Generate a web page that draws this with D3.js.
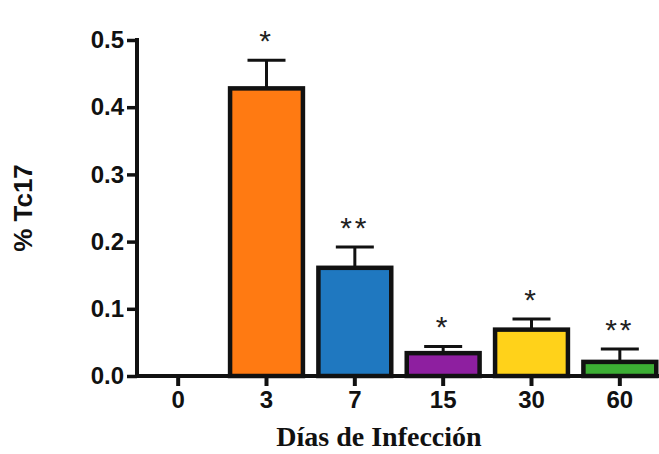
<!DOCTYPE html>
<html>
<head>
<meta charset="utf-8">
<script src="https://cdn.jsdelivr.net/npm/d3@7"></script>
<style>
  body { margin: 0; background: #fff; }
  svg text { font-family: "Liberation Sans", Arial, sans-serif; font-weight: bold; }
</style>
</head>
<body>
<svg width="659" height="454"></svg>
<script>
// days after infection and % Tc17 (mean + error)
var days = ["0", "3", "7", "15", "30", "60"];
var means = [0, 0.428, 0.161, 0.034, 0.069, 0.021];
var errors = [0, 0.042, 0.031, 0.010, 0.016, 0.019];
var stars = ["", "*", "**", "*", "*", "**"];
var colors = ["#ffffff", "#ff7a12", "#1f78c0", "#8e1fa0", "#ffd21a", "#3cae34"];
var yTicks = [0, 0.1, 0.2, 0.3, 0.4, 0.5];

var svg = d3.select("svg");

var x = d3.scaleBand()
    .domain(days)
    .range([134, 664])
    .paddingInner(0.13)
    .paddingOuter(0.065);

var y = d3.scaleLinear()
    .domain([0, 0.5])
    .range([376, 40]);

var data = days.map(function (d, i) {
    return { day: d, mean: means[i], err: errors[i], star: stars[i], color: colors[i] };
});
var shown = data.filter(function (d) { return d.mean > 0; });

// error bars (drawn first so the bar's top covers the stem)
var eb = svg.selectAll(".err")
    .data(shown)
    .enter().append("g")
    .attr("class", "err")
    .attr("stroke", "#111")
    .attr("stroke-width", 3);
eb.append("line")
    .attr("x1", function (d) { return x(d.day) + x.bandwidth() / 2; })
    .attr("x2", function (d) { return x(d.day) + x.bandwidth() / 2; })
    .attr("y1", function (d) { return y(d.mean); })
    .attr("y2", function (d) { return y(d.mean + d.err); });
eb.append("line")
    .attr("x1", function (d) { return x(d.day) + x.bandwidth() / 2 - 19; })
    .attr("x2", function (d) { return x(d.day) + x.bandwidth() / 2 + 19; })
    .attr("y1", function (d) { return y(d.mean + d.err); })
    .attr("y2", function (d) { return y(d.mean + d.err); });

svg.selectAll(".bar")
    .data(shown)
    .enter().append("rect")
    .attr("class", "bar")
    .attr("x", function (d) { return x(d.day) + 2; })
    .attr("width", x.bandwidth() - 4)
    .attr("y", function (d) { return y(d.mean); })
    .attr("height", function (d) { return y(0) - y(d.mean); })
    .attr("fill", function (d) { return d.color; })
    .attr("stroke", "#111")
    .attr("stroke-width", 4.5);

// significance stars
svg.selectAll(".star")
    .data(shown)
    .enter().append("text")
    .attr("class", "star")
    .attr("x", function (d) { return x(d.day) + x.bandwidth() / 2; })
    .attr("y", function (d) { return y(d.mean + d.err) - 9; })
    .attr("text-anchor", "middle")
    .style("font-weight", "normal")
    .style("font-size", "30px")
    .style("letter-spacing", "3px")
    .attr("fill", "#222")
    .text(function (d) { return d.star; });

// axes
var yAxis = d3.axisLeft(y)
    .tickValues(yTicks)
    .tickFormat(d3.format(".1f"))
    .tickSize(10)
    .tickPadding(3);
var gy = svg.append("g")
    .attr("transform", "translate(137,0)")
    .call(yAxis);
gy.select(".domain").remove();
gy.append("line")
    .attr("x1", 0).attr("x2", 0)
    .attr("y1", 38).attr("y2", 378)
    .attr("stroke", "#111").attr("stroke-width", 4);
gy.selectAll(".tick line").attr("stroke", "#111").attr("stroke-width", 3.5);
gy.selectAll(".tick text").attr("fill", "#111").style("font-size", "24px");

var xAxis = d3.axisBottom(x).tickSize(10).tickPadding(5);
var gx = svg.append("g")
    .attr("transform", "translate(0,376)")
    .call(xAxis);
gx.select(".domain").remove();
gx.append("line")
    .attr("x1", 135).attr("x2", 659)
    .attr("y1", 0).attr("y2", 0)
    .attr("stroke", "#111").attr("stroke-width", 4);
gx.selectAll(".tick line").attr("stroke", "#111").attr("stroke-width", 4);
gx.selectAll(".tick text").attr("fill", "#111").style("font-size", "24px");

// titles
svg.append("text")
    .attr("transform", "translate(32,208) rotate(-90)")
    .attr("text-anchor", "middle")
    .style("font-size", "26px")
    .attr("fill", "#111")
    .text("% Tc17");

svg.append("text")
    .attr("x", 379)
    .attr("y", 446)
    .attr("text-anchor", "middle")
    .style("font-family", "'Liberation Serif', 'Times New Roman', serif")
    .style("font-size", "28px")
    .attr("fill", "#111")
    .text("Días de Infección");
</script>
</body>
</html>
